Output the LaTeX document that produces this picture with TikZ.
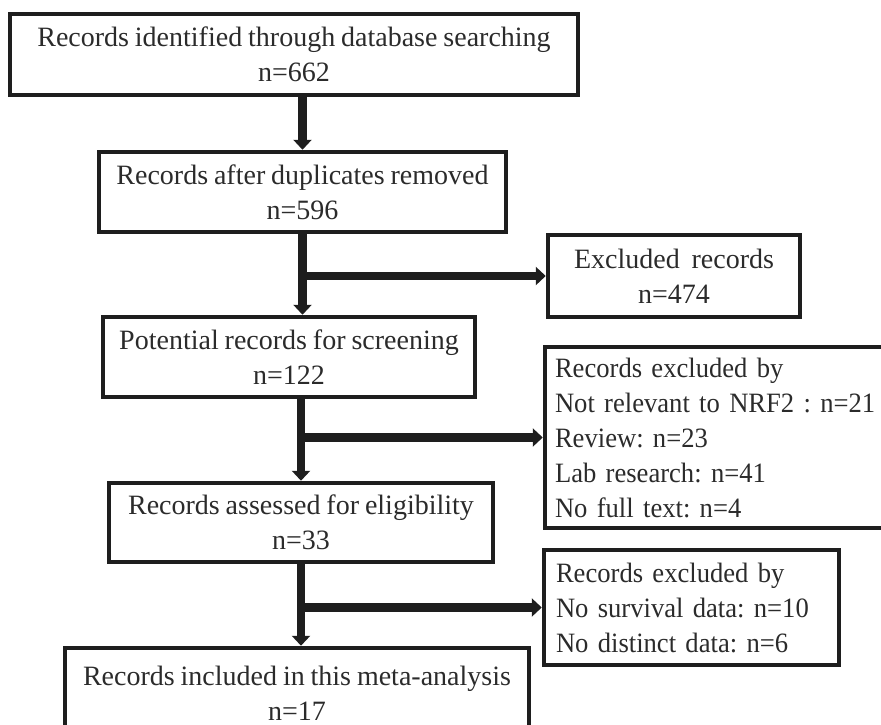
\documentclass[tikz,border=0pt]{standalone}
\usepackage{fontspec}
\setmainfont{Liberation Serif}
\newfontfamily\narrowserif[FakeStretch=0.95]{Liberation Serif}
\usetikzlibrary{arrows.meta}
\definecolor{ink}{HTML}{1E1E1E}
\definecolor{txt}{HTML}{2B2B2B}
\newcommand{\boxfont}{\fontsize{28}{35}\selectfont\frenchspacing\spaceskip=0.21em plus 0.05em\relax}
\newcommand{\listfont}{\narrowserif\boxfont}

\begin{document}
\begin{tikzpicture}[x=1pt, y=-1pt,
    box/.style={draw=ink, line width=4.5pt, text=txt, inner sep=0pt, align=center, font=\boxfont},
    list/.style={box, align=left, inner ysep=0pt, font=\listfont},
    flow/.style={draw=ink, line width=8.5pt, -{Triangle[width=18pt,length=10pt]}}]
  \useasboundingbox (0,0) rectangle (881,725);

  \node[box, minimum width=568pt, minimum height=81pt] (ID) at (294,54.5) {Records identified through database searching\\n=662};
  \node[box, minimum width=407pt, minimum height=80pt] (DUP) at (302.5,192) {Records after duplicates removed\\n=596};
  \node[box, minimum width=252pt, minimum height=82pt] (EXA) at (674,276) {Excluded~~records\\n=474};
  \node[box, minimum width=372pt, minimum height=80pt] (SCR) at (289,357) {Potential records for screening\\n=122};
  \node[list, inner xsep=10pt, text width=345pt, minimum height=181pt] (EXB) at (727.5,437.5) {Records excluded by\\Not relevant to NRF2 : n=21\\Review: n=23\\Lab research: n=41\\No full text: n=4};
  \node[box, minimum width=384pt, minimum height=79pt] (ELG) at (301,522.5) {Records assessed for eligibility\\n=33};
  \node[list, inner xsep=12pt, text width=271pt, minimum height=115pt] (EXC) at (691.5,607.5) {Records excluded by\\No survival data: n=10\\No distinct data: n=6};
  \node[box, minimum width=464pt, minimum height=90pt] (INC) at (297,693) {Records included in this meta-analysis\\n=17};

  \coordinate (B1) at (DUP.south |- EXA.west);
  \coordinate (B2) at (ELG.north |- EXB.west);
  \coordinate (B3) at (ELG.south |- EXC.west);

  \draw[flow] (ID.south -| DUP.north) to (DUP.north);
  \draw[flow] (DUP.south) to (DUP.south |- SCR.north);
  \draw[flow] (B1) to (EXA.west);
  \draw[flow] (SCR.south -| ELG.north) to (ELG.north);
  \draw[flow] (B2) to (EXB.west);
  \draw[flow] (ELG.south) to (ELG.south |- INC.north);
  \draw[flow] (B3) to (EXC.west);
\end{tikzpicture}
\end{document}
